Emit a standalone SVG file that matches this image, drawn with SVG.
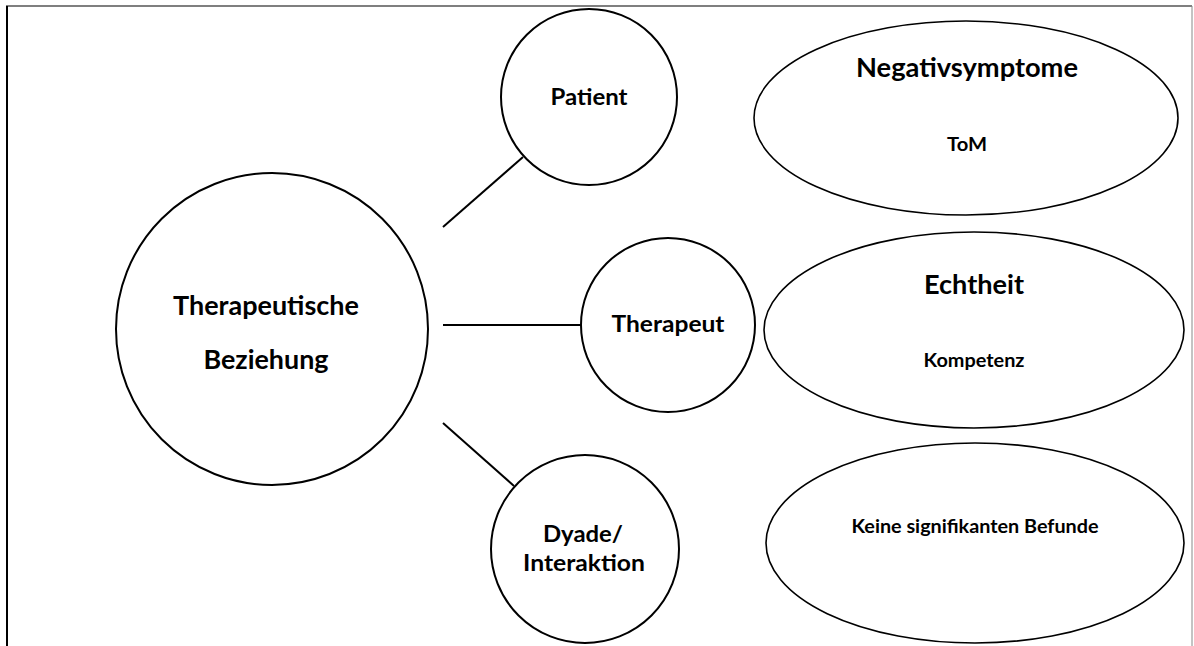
<svg xmlns="http://www.w3.org/2000/svg" width="1194" height="646" viewBox="0 0 1194 646">
<style>
.n{fill:#fff;stroke:#000;stroke-width:2}
.e{fill:#fff;stroke:#000;stroke-width:1.6}
.c{stroke:#000;stroke-width:2;fill:none}
text{font-family:Lato,"Open Sans","Liberation Sans",sans-serif;font-weight:bold;fill:#000;text-anchor:middle}
.l{font-size:26px}
.m{font-size:23.5px}
.s{font-size:19px}
</style>
<rect width="1194" height="646" fill="#fff"/>
<g id="frame">
<line x1="7" y1="6" x2="7" y2="646" stroke="#000" stroke-width="2"/>
<line x1="6" y1="6" x2="1192" y2="6" stroke="#000" stroke-width="1.2"/>
<line x1="1192" y1="6" x2="1192" y2="646" stroke="#888" stroke-width="1"/>
</g>
<g id="connectors">
<line class="c" x1="443" y1="227" x2="523" y2="157"/>
<line class="c" x1="443" y1="325" x2="582" y2="325"/>
<line class="c" x1="443" y1="423" x2="514" y2="486"/>
</g>
<g id="beziehung">
<circle class="n" cx="272" cy="329" r="156"/>
<text class="l" x="266" y="315" textLength="186" lengthAdjust="spacingAndGlyphs">Therapeutische</text>
<text class="l" x="266" y="369" textLength="125" lengthAdjust="spacingAndGlyphs">Beziehung</text>
</g>
<g id="patient">
<circle class="n" cx="589" cy="97" r="88"/>
<text class="m" x="589" y="105" textLength="77" lengthAdjust="spacingAndGlyphs">Patient</text>
</g>
<g id="therapeut">
<circle class="n" cx="668" cy="325" r="87"/>
<text class="m" x="668" y="332" textLength="113" lengthAdjust="spacingAndGlyphs">Therapeut</text>
</g>
<g id="dyade">
<circle class="n" cx="585" cy="549" r="94"/>
<text class="m" x="583" y="542" textLength="80" lengthAdjust="spacingAndGlyphs">Dyade/</text>
<text class="m" x="584" y="571" textLength="122" lengthAdjust="spacingAndGlyphs">Interaktion</text>
</g>
<g id="patient-befunde">
<ellipse class="e" cx="966" cy="118" rx="212" ry="97"/>
<text class="l" x="967" y="77" textLength="222" lengthAdjust="spacingAndGlyphs">Negativsymptome</text>
<text class="s" x="967" y="151" textLength="40" lengthAdjust="spacingAndGlyphs">ToM</text>
</g>
<g id="therapeut-befunde">
<ellipse class="e" cx="974" cy="330" rx="210" ry="98"/>
<text class="l" x="974" y="294" textLength="100" lengthAdjust="spacingAndGlyphs">Echtheit</text>
<text class="s" x="974" y="367" textLength="101" lengthAdjust="spacingAndGlyphs">Kompetenz</text>
</g>
<g id="dyade-befunde">
<ellipse class="e" cx="975" cy="543" rx="209" ry="100"/>
<text class="s" x="975" y="533" textLength="247" lengthAdjust="spacingAndGlyphs">Keine signifikanten Befunde</text>
</g>
</svg>
